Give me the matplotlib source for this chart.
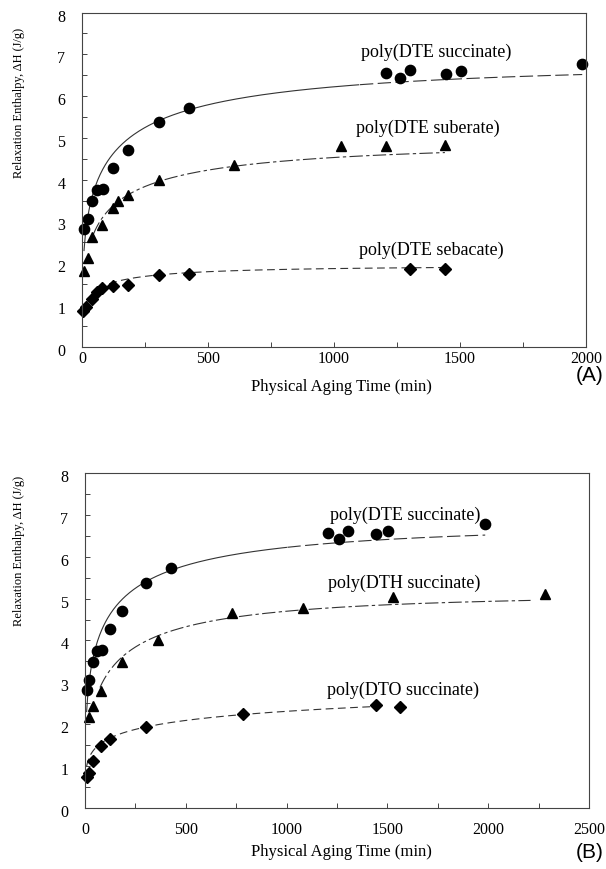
import matplotlib
matplotlib.use("Agg")
import matplotlib.pyplot as plt
import numpy as np
from matplotlib.ticker import MultipleLocator
from matplotlib.transforms import ScaledTranslation

plt.rcParams["font.family"] = ["Liberation Serif", "DejaVu Serif"]

# ---- data ----
# panel A / B : poly(DTE succinate)
t_dte_succ = [9, 22, 41, 61, 82, 124, 184, 304, 426, 1205, 1262, 1303, 1443, 1504, 1985]
dh_dte_succ = [2.82, 3.05, 3.48, 3.76, 3.77, 4.28, 4.70, 5.37, 5.72, 6.56, 6.43, 6.62, 6.54, 6.61, 6.78]

# panel A : poly(DTE suberate)
t_dte_sub = [9, 22, 41, 81, 122, 144, 184, 304, 604, 1026, 1205, 1442]
dh_dte_sub = [1.82, 2.12, 2.62, 2.92, 3.32, 3.48, 3.64, 4.00, 4.35, 4.80, 4.80, 4.84]

# panel A : poly(DTE sebacate)
t_dte_seb = [5, 15, 41, 61, 81, 122, 182, 304, 426, 1303, 1440]
dh_dte_seb = [0.86, 0.95, 1.15, 1.31, 1.41, 1.45, 1.48, 1.71, 1.75, 1.87, 1.85]

# panel B : poly(DTH succinate)
t_dth_succ = [20, 41, 81, 184, 364, 728, 1083, 1529, 2282]
dh_dth_succ = [2.17, 2.43, 2.80, 3.48, 4.01, 4.65, 4.78, 5.04, 5.10]

# panel B : poly(DTO succinate)
t_dto_succ = [8, 21, 41, 81, 122, 304, 784, 1445, 1562]
dh_dto_succ = [0.74, 0.83, 1.12, 1.48, 1.64, 1.93, 2.24, 2.45, 2.41]

# KWW fit parameters (dH_inf, tau, beta, t_start, t_end)
fit_dte_succ = (6.8, 87, 0.37, 8, 1985)
fit_dte_sub = (4.9, 82, 0.38, 45, 1440)
fit_dte_seb = (1.94, 35, 0.36, 10, 1440)
fit_dth_succ = (5.1, 114, 0.43, 74, 2210)
fit_dto_succ = (3.6, 899, 0.238, 8, 1440)


def kww(t, dh_inf, tau, beta):
    return dh_inf * (1 - np.exp(-(t / tau) ** beta))


def draw_fit(ax, fit, dashes, solid_until=None):
    dh_inf, tau, beta, t0, t1 = fit
    t = np.linspace(t0, t1, 400)
    y = kww(t, dh_inf, tau, beta)
    if solid_until is None:
        ax.plot(t, y, color="#333333", lw=0.8, dashes=dashes)
    else:
        m = t <= solid_until
        ax.plot(t[m], y[m], color="#333333", lw=0.8)
        ax.plot(t[~m], y[~m], color="#333333", lw=0.8, dashes=dashes)


def style_axes(ax, xmax, xpad):
    ax.set_xlim(0, xmax)
    ax.set_ylim(0, 8)
    ax.xaxis.set_major_locator(MultipleLocator(500))
    ax.xaxis.set_minor_locator(MultipleLocator(250))
    ax.yaxis.set_major_locator(MultipleLocator(1))
    ax.yaxis.set_minor_locator(MultipleLocator(0.5))
    ax.tick_params(which="both", direction="in", top=False, right=False,
                   length=3.5, width=0.7, color="#444444", labelsize=11.5)
    ax.tick_params(axis="y", pad=12)
    ax.tick_params(axis="x", pad=xpad)
    for s in ax.spines.values():
        s.set_linewidth(0.8)
        s.set_color("#444444")
    # y tick labels sit a little low in the original
    shift = ScaledTranslation(0, -3 / 100, fig.dpi_scale_trans)
    for lab in ax.get_yticklabels():
        lab.set_transform(lab.get_transform() + shift)


fig = plt.figure(figsize=(6.06, 8.69), dpi=100)

ms_c, ms_t, ms_d = 7.4, 6.8, 6.0

# ---- panel A ----
axA = fig.add_axes([0.1353, 0.6010, 0.8317, 0.3845])
draw_fit(axA, fit_dte_succ, (12, 4), solid_until=1100)
draw_fit(axA, fit_dte_sub, (12, 3, 3, 3))
draw_fit(axA, fit_dte_seb, (7, 4))
axA.plot(t_dte_succ, dh_dte_succ, "o", color="black", ms=ms_c, clip_on=False)
axA.plot(t_dte_sub, dh_dte_sub, "^", color="black", ms=ms_t, clip_on=False)
axA.plot(t_dte_seb, dh_dte_seb, "D", color="black", ms=ms_d, clip_on=False)
style_axes(axA, 2000, 3)
axA.text(1405, 7.04, "poly(DTE succinate)", ha="center", va="center", fontsize=13)
axA.text(1371, 5.22, "poly(DTE suberate)", ha="center", va="center", fontsize=13)
axA.text(1385, 2.31, "poly(DTE sebacate)", ha="center", va="center", fontsize=13)

# ---- panel B ----
axB = fig.add_axes([0.1403, 0.0702, 0.8317, 0.3855])
draw_fit(axB, fit_dte_succ, (12, 4), solid_until=1000)
draw_fit(axB, fit_dth_succ, (12, 3, 3, 3))
draw_fit(axB, fit_dto_succ, (7, 4))
axB.plot(t_dte_succ, dh_dte_succ, "o", color="black", ms=ms_c, clip_on=False)
axB.plot(t_dth_succ, dh_dth_succ, "^", color="black", ms=ms_t, clip_on=False)
axB.plot(t_dto_succ, dh_dto_succ, "D", color="black", ms=ms_d, clip_on=False)
style_axes(axB, 2500, 10)
axB.text(1587, 7.0, "poly(DTE succinate)", ha="center", va="center", fontsize=13)
axB.text(1582, 5.37, "poly(DTH succinate)", ha="center", va="center", fontsize=13)
axB.text(1578, 2.82, "poly(DTO succinate)", ha="center", va="center", fontsize=13)

# ---- labels ----
ylab = "Relaxation Enthalpy, ΔH (J/g)"
fig.text(19 / 606, 1 - 103 / 869, ylab, rotation=90, ha="center", va="center", fontsize=9)
fig.text(19 / 606, 1 - 551 / 869, ylab, rotation=90, ha="center", va="center", fontsize=9)
fig.text(341 / 606, 1 - 387 / 869, "Physical Aging Time (min)", ha="center", va="center", fontsize=12)
fig.text(341 / 606, 1 - 852 / 869, "Physical Aging Time (min)", ha="center", va="center", fontsize=12)
fig.text(590 / 606, 1 - 376 / 869, "(A)", ha="center", va="center", fontsize=15,
         family=["Liberation Sans", "DejaVu Sans"])
fig.text(590 / 606, 1 - 852 / 869, "(B)", ha="center", va="center", fontsize=15,
         family=["Liberation Sans", "DejaVu Sans"])

fig.savefig("out.png", dpi=100)
